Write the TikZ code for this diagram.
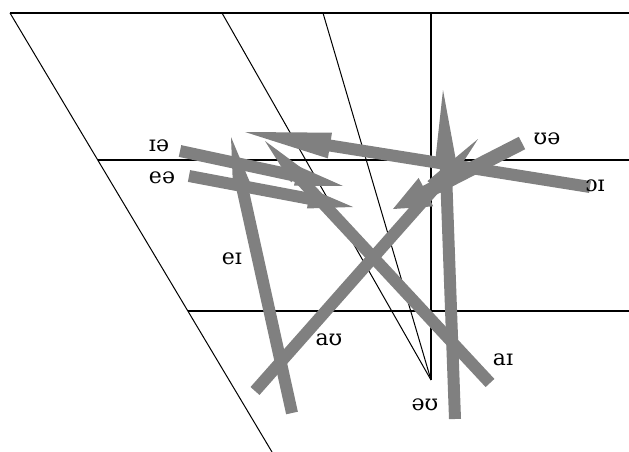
\documentclass[tikz,border=0pt]{standalone}
\usepackage{fontspec}
\setmainfont{DejaVu Serif}
\usetikzlibrary{calc}
\definecolor{arrgray}{RGB}{128,128,128}
\newcommand{\diarrow}[5]{%
  \path ($(#2)!#3!(#1)$) coordinate (tmpB);
  \draw[diph, line width=#5] (#1) -- ($(#2)!#3-2pt!(#1)$);
  \fill[arrgray] (#2) -- ($(tmpB)!#4!90:(#2)$) -- ($(tmpB)!#4!-90:(#2)$) -- cycle;
}
\begin{document}
\begin{tikzpicture}[x=1pt,y=-1pt,
  chart/.style={black, line width=1pt},
  diph/.style={arrgray, line cap=butt},
  lbl/.style={font=\fontsize{22}{22}\selectfont, inner sep=0pt, text=black}]
\useasboundingbox (0,0) rectangle (629,452);
% chart frame
\coordinate (tl) at (10,13);
\coordinate (tr) at (629,13);
\coordinate (bl) at (272,452);
\coordinate (apex) at (431,380);
\coordinate (s2) at (222,13);
\coordinate (s3) at (323,13);
\coordinate (vt) at (431,13);
\coordinate (h1l) at (98,160);
\coordinate (h1r) at (629,160);
\coordinate (h2l) at (188,311);
\coordinate (h2r) at (629,311);
\draw[chart, line width=1.8pt] (tl) -- (tr);
\draw[chart] (tl) -- (bl);
\draw[chart] (s2) -- (apex);
\draw[chart] (s3) -- (apex);
\draw[chart, line width=1.4pt] (vt) -- (apex);
\draw[chart, line width=1.2pt] (h1l) -- (h1r);
\draw[chart, line width=1.2pt] (h2l) -- (h2r);
% diphthong arrows
\coordinate (oiS) at (590,187); \coordinate (oiT) at (245,132);
\coordinate (uaS) at (522,143); \coordinate (uaT) at (393,209);
\coordinate (ouS) at (455,419); \coordinate (ouT) at (443,90);
\coordinate (auS) at (255,391); \coordinate (auT) at (478,139);
\coordinate (aiS) at (490,383); \coordinate (aiT) at (265,141);
\coordinate (eiS) at (292,413); \coordinate (eiT) at (231,137);
\coordinate (iaS) at (180,151); \coordinate (iaT) at (343,186);
\coordinate (eaS) at (189,176); \coordinate (eaT) at (353,207);
\diarrow{ouS}{ouT}{75pt}{11pt}{12pt}
\diarrow{eiS}{eiT}{50pt}{9pt}{12pt}
\diarrow{aiS}{aiT}{48pt}{9pt}{12pt}
\diarrow{auS}{auT}{65pt}{10pt}{12pt}
\diarrow{oiS}{oiT}{86pt}{13pt}{12pt}
\diarrow{iaS}{iaT}{48pt}{10pt}{12pt}
\diarrow{eaS}{eaT}{45pt}{10pt}{12pt}
\diarrow{uaS}{uaT}{37pt}{16pt}{14pt}
% labels
\node[lbl] (lia) at (159,146) {ɪə};
\node[lbl] (lea) at (162,178) {eə};
\node[lbl] (lua) at (547,139) {ʊə};
\node[lbl] (loi) at (595,186) {ɔɪ};
\node[lbl] (lei) at (232,259) {eɪ};
\node[lbl] (lau) at (329,340) {aʊ};
\node[lbl] (lou) at (425,405) {əʊ};
\node[lbl] (lai) at (503,360) {aɪ};
\end{tikzpicture}
\end{document}
